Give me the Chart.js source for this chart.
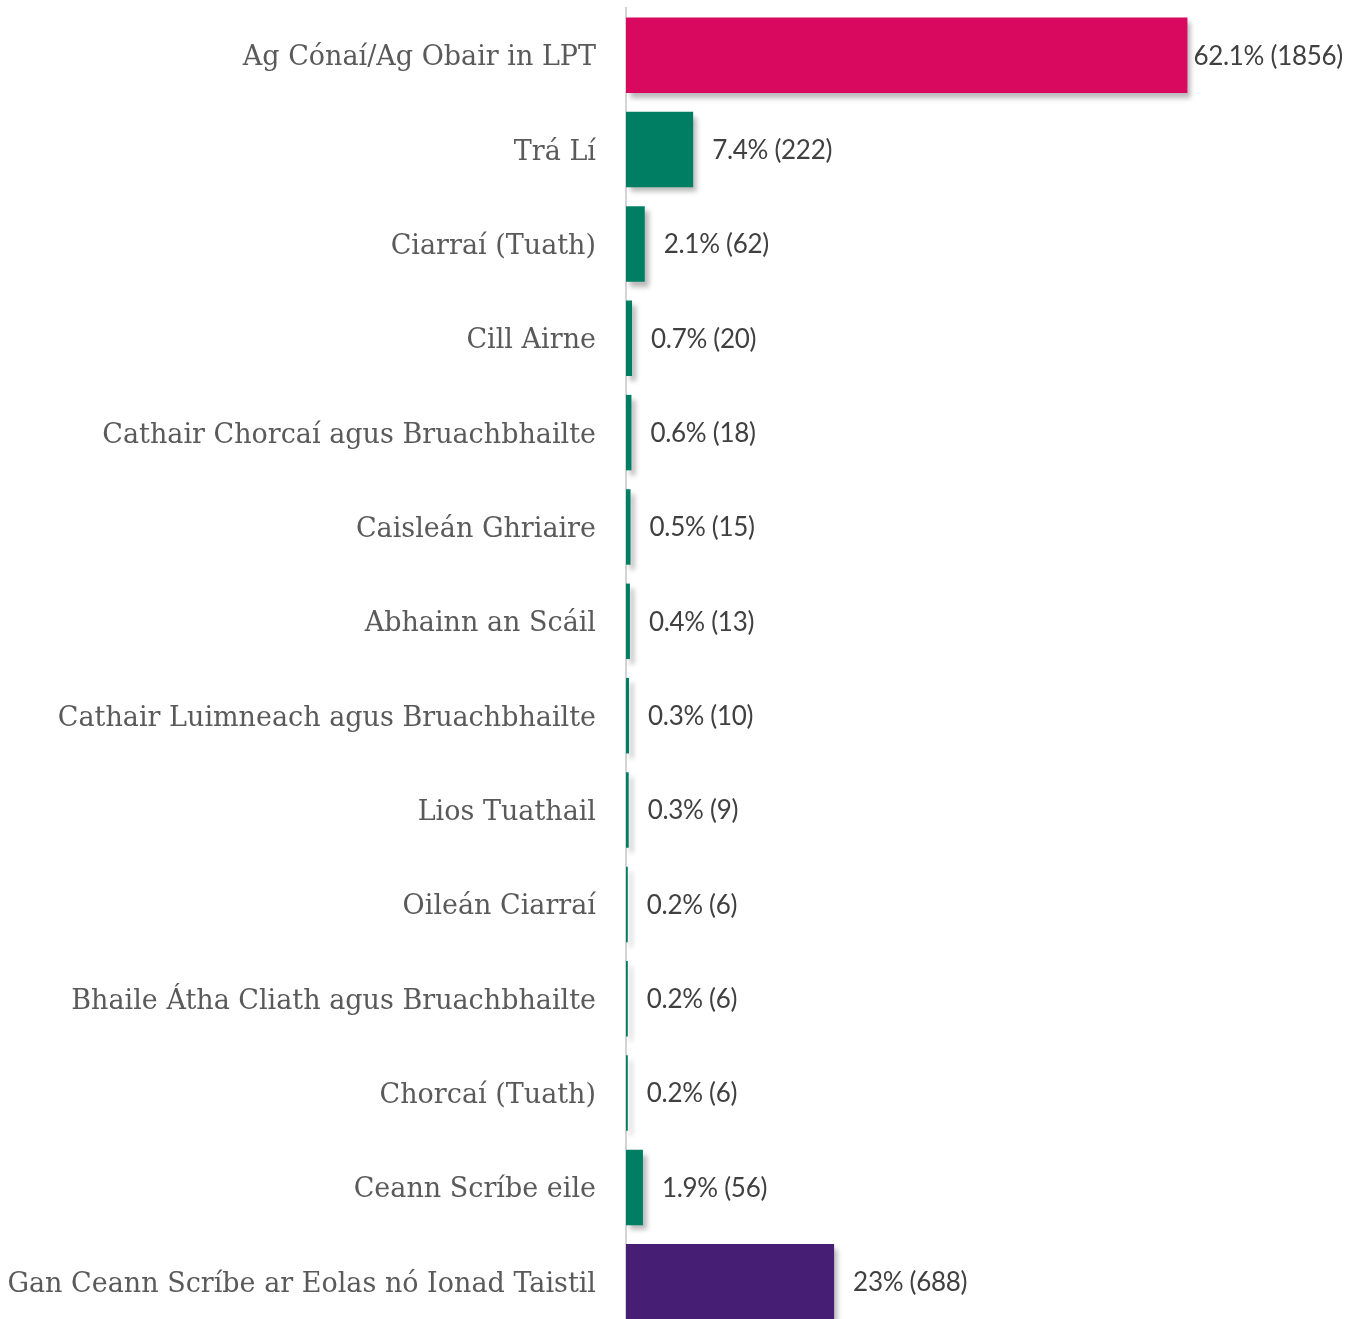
<!DOCTYPE html>
<html>
<head>
<meta charset="utf-8">
<script src="https://cdn.jsdelivr.net/npm/chart.js@4/dist/chart.umd.min.js"></script>
<style>
  html, body { margin: 0; padding: 0; background: #fff; overflow: hidden; }
  #wrap { position: relative; width: 1345px; height: 1330px; }
</style>
</head>
<body>
<div id="wrap"><canvas id="destChart"></canvas></div>
<script>
const categories = [
  "Ag Cónaí/Ag Obair in LPT",
  "Trá Lí",
  "Ciarraí (Tuath)",
  "Cill Airne",
  "Cathair Chorcaí agus Bruachbhailte",
  "Caisleán Ghriaire",
  "Abhainn an Scáil",
  "Cathair Luimneach agus Bruachbhailte",
  "Lios Tuathail",
  "Oileán Ciarraí",
  "Bhaile Átha Cliath agus Bruachbhailte",
  "Chorcaí (Tuath)",
  "Ceann Scríbe eile",
  "Gan Ceann Scríbe ar Eolas nó Ionad Taistil",
];
const counts = [1856, 222, 62, 20, 18, 15, 13, 10, 9, 6, 6, 6, 56, 688];
const percents = ["62.1%", "7.4%", "2.1%", "0.7%", "0.6%", "0.5%", "0.4%", "0.3%", "0.3%", "0.2%", "0.2%", "0.2%", "1.9%", "23%"];

const PINK = "#d9095f";
const GREEN = "#007e63";
const PURPLE = "#461e73";
const barColors = counts.map((v, i) => i === 0 ? PINK : (i === counts.length - 1 ? PURPLE : GREEN));

// drop shadow under the bars
const barShadow = {
  id: "barShadow",
  beforeDatasetsDraw(chart) {
    const c = chart.ctx;
    c.save();
    c.shadowColor = "rgba(0,0,0,0.28)";
    c.shadowBlur = 5;
    c.shadowOffsetX = 4;
    c.shadowOffsetY = 5;
  },
  afterDatasetsDraw(chart) {
    chart.ctx.restore();
  },
};

// "62.1% (1856)" labels to the right of each bar
const valueLabels = {
  id: "valueLabels",
  afterDatasetsDraw(chart) {
    const c = chart.ctx;
    const meta = chart.getDatasetMeta(0);
    c.save();
    c.font = "26px Lato";
    c.letterSpacing = "-0.3px";
    c.fillStyle = "#404040";
    c.textBaseline = "middle";
    c.textAlign = "left";
    meta.data.forEach((bar, i) => {
      const txt = percents[i] + " (" + counts[i] + ")";
      let x = bar.x + 19;
      const w = c.measureText(txt).width;
      if (x + w > chart.width - 3) x = bar.x + 6;
      c.fillText(txt, x, bar.y + 1);
    });
    c.restore();
  },
};

new Chart(document.getElementById("destChart"), {
  type: "bar",
  data: {
    labels: categories,
    datasets: [{
      data: counts,
      backgroundColor: barColors,
      borderWidth: 0,
      barPercentage: 0.8,
      categoryPercentage: 1.0,
    }],
  },
  options: {
    indexAxis: "y",
    responsive: true,
    maintainAspectRatio: false,
    animation: false,
    layout: { padding: { left: 0, right: 114, top: 8, bottom: 1 } },
    plugins: {
      legend: { display: false },
      tooltip: { enabled: false },
    },
    scales: {
      x: {
        display: false,
        min: 0,
        max: 2000,
      },
      y: {
        afterFit(scale) {
          scale.width = 626;
          scale.paddingTop = 0;
          scale.paddingBottom = 0;
        },
        grid: { display: false, drawTicks: false },
        border: { display: true, color: "#d4d4d4", width: 2 },
        ticks: {
          padding: 30,
          labelOffset: 3,
          color: "#5a5a5a",
          font: { family: "'DejaVu Serif'", size: 27 },
        },
      },
    },
  },
  plugins: [barShadow, valueLabels],
});
</script>
</body>
</html>
